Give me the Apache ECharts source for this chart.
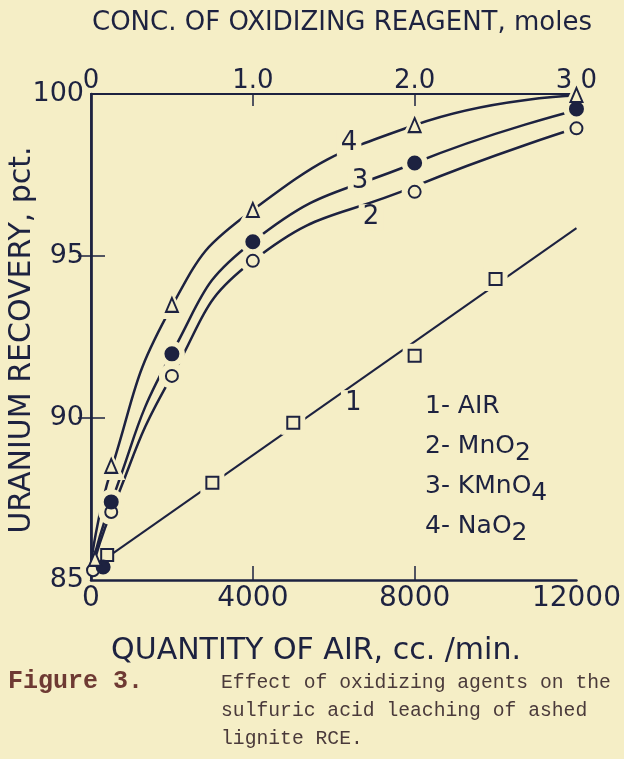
<!DOCTYPE html>
<html><head><meta charset="utf-8">
<script src="https://cdn.jsdelivr.net/npm/echarts/dist/echarts.min.js"></script>
<style>html,body{margin:0;padding:0;background:#f5eec6;}#c{width:624px;height:759px;}</style>
</head><body><div id="c"></div>
<script>
// ---- data ----
const bottomTickValues = [0, 4000, 8000, 12000];
const topTickLabels = ['0', '1.0', '2.0', '3.0'];
const leftTickValues = [85, 90, 95, 100];

const airX = [400, 3000, 5000, 8000, 10000];
const airY = [85.77, 88.0, 89.85, 91.92, 94.29];
const airFitX = [400, 12000];
const airFitY = [85.7, 95.86];

const mno2X = [50, 500, 2000, 4000, 8000, 12000];
const mno2Y = [85.3, 87.1, 91.3, 94.85, 96.98, 98.94];
const mno2CurveX = [0, 500, 2000, 4000, 8000, 12000];
const mno2CurveY = [85.2, 87.1, 91.3, 94.85, 97.15, 98.95];

const kmno4X = [300, 500, 2000, 4000, 8000, 12000];
const kmno4Y = [85.4, 87.41, 91.98, 95.44, 97.87, 99.54];
const kmno4CurveX = [0, 500, 2000, 4000, 8000, 12000];
const kmno4CurveY = [85.3, 87.4, 92.0, 95.44, 97.87, 99.5];

const nao2X = [100, 500, 2000, 4000, 8000, 12000];
const nao2Y = [85.65, 88.52, 93.49, 96.42, 99.04, 99.97];
const nao2CurveX = [0, 500, 2000, 4000, 8000, 12000];
const nao2CurveY = [85.5, 88.4, 93.45, 96.42, 99.04, 99.95];

const curveLabelNames = ['4', '3', '2', '1'];
const curveLabelX = [6380, 6650, 6920, 6480];
const curveLabelY = [98.49, 97.31, 96.2, 90.46];

const legendLines = ['1- AIR', '2- MnO{s|2}', '3- KMnO{s|4}', '4- NaO{s|2}'];
const topTitle = 'CONC. OF OXIDIZING REAGENT, moles';
const bottomTitle = 'QUANTITY OF AIR, cc. /min.';
const leftTitle = 'URANIUM RECOVERY, pct.';
const captionLabel = 'Figure 3.';
const captionLines = ['Effect of oxidizing agents on the', 'sulfuric acid leaching of ashed', 'lignite RCE.'];

// ---- styles ----
const BG = '#f5eec6', INK = '#1d2240', CAP = '#4a3a3a', CAPRED = '#6e3a33';
const FONT = 'DejaVu Sans';
const zip = (xs, ys) => xs.map((x, i) => [x, ys[i]]);

const chart = echarts.init(document.getElementById('c'), null, {renderer: 'canvas'});

function markerSeries(name, xs, ys, symbol, size, fill) {
  return {
    type: 'scatter', name, data: zip(xs, ys), symbol, symbolSize: size, z: 4, silent: true,
    itemStyle: {color: fill, borderColor: INK, borderWidth: 2, opacity: 1}
  };
}
function haloSeries(xs, ys, symbol, size) {
  return {
    type: 'scatter', data: zip(xs, ys), symbol, z: 3, silent: true,
    symbolSize: v => (v[0] < 450 ? 0 : size),
    itemStyle: {color: BG, borderWidth: 0, opacity: 1}
  };
}
function curveSeries(xs, ys, w) {
  return {
    type: 'line', data: zip(xs, ys), smooth: 0.5, showSymbol: false, symbol: 'none',
    z: 2, silent: true, lineStyle: {color: INK, width: w}
  };
}

const option = {
  backgroundColor: BG,
  animation: false,
  grid: {left: 91, right: 45, top: 94, bottom: 179},
  xAxis: [
    {
      type: 'value', position: 'bottom', min: 0, max: 12000, interval: 4000,
      axisLine: {show: true, lineStyle: {color: INK, width: 2.5}},
      axisTick: {show: true, inside: true, length: 14, lineStyle: {color: INK, width: 1.5},
                 customValues: bottomTickValues.slice(1, 3)},
      axisLabel: {color: INK, fontFamily: FONT, fontSize: 28, margin: 5, customValues: bottomTickValues,
                  formatter: v => String(v)},
      splitLine: {show: false}
    },
    {
      type: 'value', position: 'top', min: 0, max: 3, interval: 1,
      axisLine: {show: true, lineStyle: {color: INK, width: 2}},
      axisTick: {show: true, inside: true, length: 12, lineStyle: {color: INK, width: 1.5},
                 customValues: [1, 2]},
      axisLabel: {color: INK, fontFamily: FONT, fontSize: 26, margin: 0,
                  formatter: v => topTickLabels[Math.round(v)]},
      splitLine: {show: false}
    }
  ],
  yAxis: [
    {
      type: 'value', position: 'left', min: 85, max: 100, interval: 5,
      axisLine: {show: true, lineStyle: {color: INK, width: 2.7}},
      axisTick: {show: true, inside: true, length: 14, lineStyle: {color: INK, width: 1.5},
                 customValues: leftTickValues.slice(1, 3)},
      axisLabel: {color: INK, fontFamily: FONT, fontSize: 27, margin: 7, formatter: v => String(v)},
      splitLine: {show: false}
    },
    {
      type: 'value', position: 'right', min: 85, max: 100, interval: 5,
      axisLine: {show: true, lineStyle: {color: INK, width: 1.6}},
      axisTick: {show: true, inside: true, length: 13, lineStyle: {color: INK, width: 1.5},
                 customValues: leftTickValues.slice(1, 3)},
      axisLabel: {show: false},
      splitLine: {show: false}
    }
  ],
  series: [
    {type: 'line', data: zip(airFitX, airFitY), showSymbol: false, symbol: 'none', z: 2, silent: true,
     lineStyle: {color: INK, width: 2}},
    curveSeries(mno2CurveX, mno2CurveY, 2.5),
    curveSeries(kmno4CurveX, kmno4CurveY, 2.5),
    curveSeries(nao2CurveX, nao2CurveY, 2.5),
    haloSeries(airX, airY, 'rect', 24),
    haloSeries(mno2X, mno2Y, 'circle', 26),
    haloSeries(kmno4X, kmno4Y, 'circle', 26),
    haloSeries(nao2X, nao2Y, 'triangle', 28),
    markerSeries('1 - AIR', airX, airY, 'rect', 12, BG),
    markerSeries('2 - MnO2', mno2X, mno2Y, 'circle', 12, BG),
    markerSeries('3 - KMnO4', kmno4X, kmno4Y, 'circle', 13, INK),
    markerSeries('4 - NaO2', nao2X, nao2Y, 'triangle', [12, 14], BG),
    {
      type: 'scatter', z: 5, silent: true, symbolSize: 2,
      itemStyle: {color: 'rgba(0,0,0,0)', opacity: 1},
      data: curveLabelNames.map((n, i) => ({name: n, value: [curveLabelX[i], curveLabelY[i]]})),
      labelLayout: {hideOverlap: false},
      label: {show: true, position: 'inside', formatter: '{b}', color: INK, opacity: 1,
              fontFamily: FONT, fontSize: 26, backgroundColor: BG, padding: [0, 4]}
    }
  ],
  graphic: [
    {type: 'text', x: 342, y: 23, style: {text: topTitle, fill: INK, font: '26px "' + FONT + '"',
      textAlign: 'center', textVerticalAlign: 'middle'}},
    {type: 'text', x: 316, y: 651, style: {text: bottomTitle, fill: INK, font: '30px "' + FONT + '"',
      textAlign: 'center', textVerticalAlign: 'middle'}},
    {type: 'text', x: 22, y: 340, rotation: Math.PI / 2, style: {text: leftTitle, fill: INK,
      font: '30px "' + FONT + '"', textAlign: 'center', textVerticalAlign: 'middle'}},
    {type: 'text', x: 425, y: 386, style: {
      text: legendLines.join('\n'), fill: INK, font: '25px "' + FONT + '"', lineHeight: 40,
      rich: {s: {fontSize: 25, fontFamily: FONT, color: INK, lineHeight: 22, verticalAlign: 'bottom'}}
    }},
    {type: 'text', x: 8, y: 669, style: {text: captionLabel, fill: CAPRED,
      font: 'bold 25px "Liberation Mono"'}},
    {type: 'text', x: 221, y: 669, style: {text: captionLines.join('\n'), fill: CAP,
      font: '19.7px "Liberation Mono"', lineHeight: 28}}
  ]
};
chart.setOption(option);
</script></body></html>
